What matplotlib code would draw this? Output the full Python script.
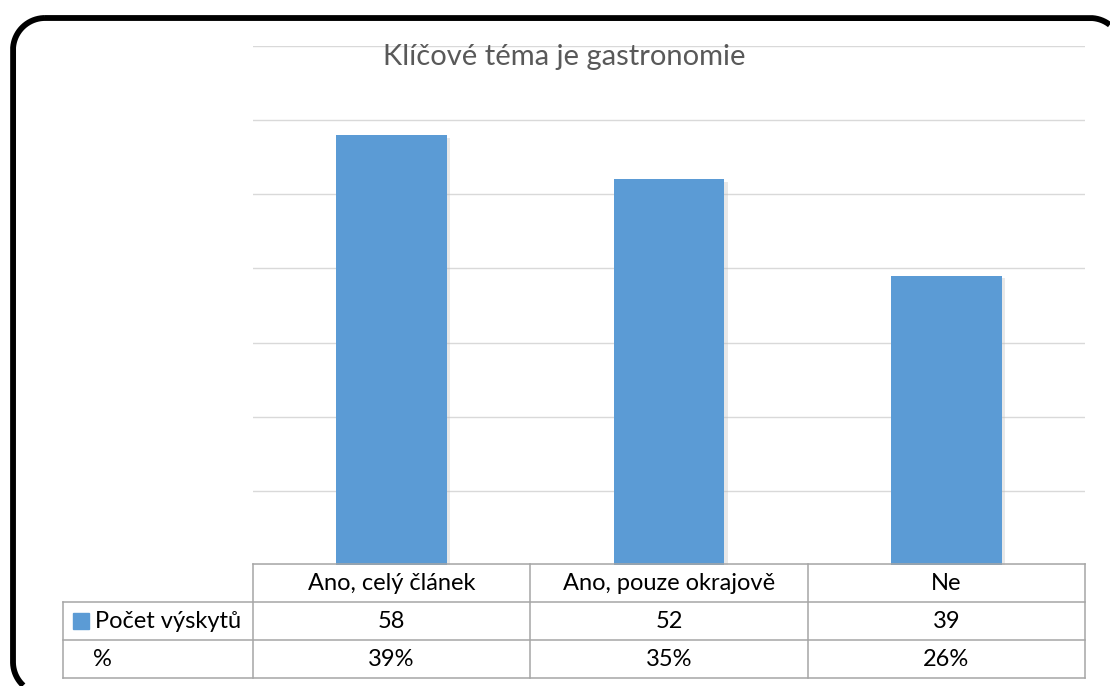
import matplotlib
matplotlib.use("Agg")
import matplotlib.pyplot as plt
import numpy as np
from matplotlib.patches import Rectangle

# data
categories = ["Ano, celý článek", "Ano, pouze okrajově", "Ne"]
counts = [58, 52, 39]
percents = ["39%", "35%", "26%"]
series_name = "Počet výskytů"
pct_name = "%"
title = "Klíčové téma je gastronomie"

W, H = 1110, 686
BLUE = "#5B9BD5"
GRID = "#D9D9D9"
TBL = "#A6A6A6"
FONT = "Lato"

plt.rcParams["savefig.bbox"] = "standard"

fig = plt.figure(figsize=(W / 100, H / 100), dpi=100)
fig.patch.set_facecolor("white")


def px(x0, y0, x1, y1):
    # pixel box (top-left origin) -> figure fraction rect
    return [x0 / W, 1 - y1 / H, (x1 - x0) / W, (y1 - y0) / H]


def rounded_outline(x0, y0, x1, y1, r, step=0.5):
    # closed outline of a rounded rectangle, densely sampled
    pts = []
    corners = [((x1 - r, y0 + r), -90, 0), ((x1 - r, y1 - r), 0, 90),
               ((x0 + r, y1 - r), 90, 180), ((x0 + r, y0 + r), 180, 270)]
    starts = [(x0 + r, y0), (x1, y0 + r), (x1 - r, y1), (x0, y1 - r)]
    for (sx, sy), ((cx, cy), a0, a1) in zip(starts, corners):
        ex = cx + r * np.cos(np.radians(a0))
        ey = cy + r * np.sin(np.radians(a0))
        n = int(max(abs(ex - sx), abs(ey - sy)) / step) + 2
        pts += list(zip(np.linspace(sx, ex, n), np.linspace(sy, ey, n)))
        t = np.radians(np.linspace(a0, a1, 60))
        pts += list(zip(cx + r * np.cos(t), cy + r * np.sin(t)))
    pts.append(pts[0])
    return np.array(pts)


# frame around the chart; only the part lying on the canvas is drawn
bg = fig.add_axes([0, 0, 1, 1], zorder=-1)
bg.set_xlim(0, W)
bg.set_ylim(H, 0)
bg.axis("off")
outline = rounded_outline(13, 18, 1122, 694, 32)
inside = (outline[:, 0] <= W) & (outline[:, 1] <= H)
runs, cur = [], []
for p, ok in zip(outline, inside):
    if ok:
        cur.append(p)
    elif cur:
        runs.append(np.array(cur))
        cur = []
if cur:
    runs.append(np.array(cur))
for seg in runs:
    if len(seg) > 1:
        bg.plot(seg[:, 0], seg[:, 1], color="black", lw=4.2,
                solid_capstyle="butt", solid_joinstyle="round")

# plot area
ax = fig.add_axes(px(253, 46, 1085, 565))
ax.patch.set_alpha(0)
x = list(range(len(categories)))
# soft shadow under the columns
ax.bar([i + 0.012 for i in x], counts, width=0.4,
       color="#BFBFBF", alpha=0.35, zorder=2, bottom=-0.35)
ax.bar(x, counts, width=0.4, color=BLUE, zorder=3)
ax.set_xlim(-0.5, len(categories) - 0.5)
ax.set_ylim(0, 70)
ax.set_yticks(range(0, 71, 10))
ax.yaxis.grid(True, color=GRID, linewidth=1)
ax.set_axisbelow(True)
ax.tick_params(left=False, bottom=False, labelleft=False, labelbottom=False)
for s in ax.spines.values():
    s.set_visible(False)

fig.text(564 / W, 1 - 57 / H, title, ha="center", va="center",
         fontsize=21, color="#595959", family=FONT)

# data table under the plot
cw = (1085 - 253) / len(categories)
lead = (253 - 63) / cw
tax = fig.add_axes(px(63, 564, 1085, 678))
tax.set_xlim(-0.5 - lead, len(categories) - 0.5)
tax.set_ylim(3, 0)
tax.axis("off")

lw = 1.1
left = -0.5 - lead
right = len(categories) - 0.5
# horizontal rules
tax.plot([-0.5, right], [0, 0], color=TBL, lw=lw, clip_on=False)
for r in (1, 2, 3):
    tax.plot([left, right], [r, r], color=TBL, lw=lw, clip_on=False)
# vertical rules
tax.plot([left, left], [1, 3], color=TBL, lw=lw, clip_on=False)
for i in range(len(categories) + 1):
    tax.plot([i - 0.5, i - 0.5], [0, 3], color=TBL, lw=lw, clip_on=False)

fs = 17
for i, cat in enumerate(categories):
    tax.text(i, 0.5, cat, ha="center", va="center", fontsize=fs, family=FONT)
    tax.text(i, 1.5, str(counts[i]), ha="center", va="center", fontsize=fs, family=FONT)
    tax.text(i, 2.5, percents[i], ha="center", va="center", fontsize=fs, family=FONT)

# legend key in the row header
tax.add_patch(Rectangle((left + 10 / cw, 1.5 - 0.21), 16 / cw, 0.42, color=BLUE,
                        clip_on=False))
tax.text(left + 32 / cw, 1.5, series_name, ha="left", va="center",
         fontsize=fs, family=FONT)
tax.text(left + 30 / cw, 2.5, pct_name, ha="left", va="center",
         fontsize=fs, family=FONT)

fig.savefig("out.png", dpi=100)
